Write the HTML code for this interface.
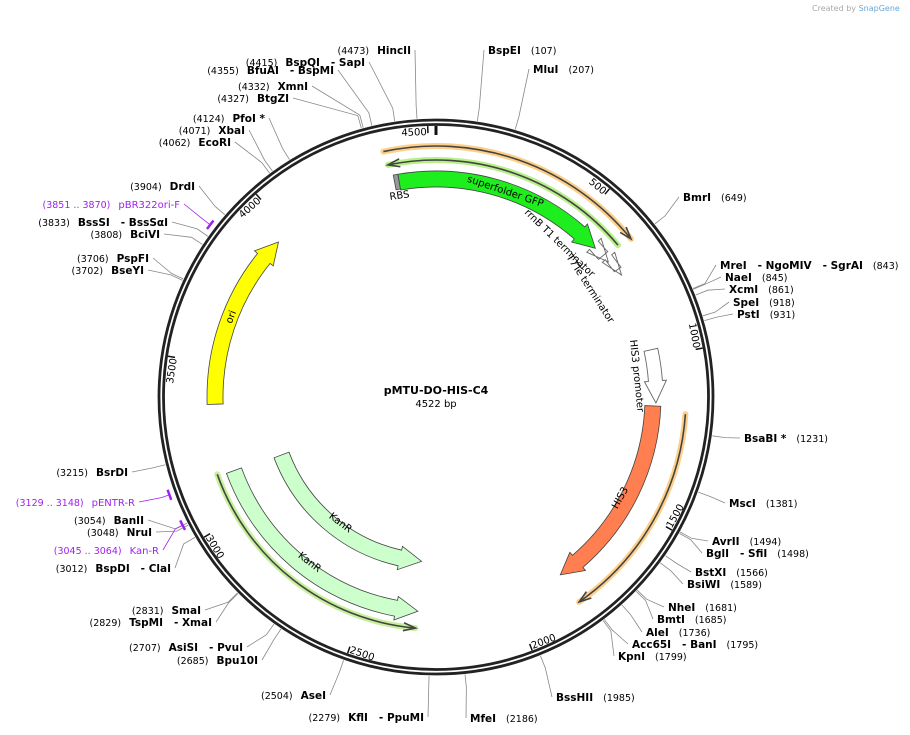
<!DOCTYPE html>
<html><head><meta charset="utf-8"><style>
html,body{margin:0;padding:0;background:#fff;}
svg{display:block;font-family:"DejaVu Sans","Liberation Sans",sans-serif;}
</style></head><body>
<svg id="map" width="910" height="735" viewBox="0 0 910 735" xmlns="http://www.w3.org/2000/svg">
<text x="812" y="11" font-size="8" fill="#aaa">Created by <tspan fill="#6aa7d8">SnapGene</tspan></text>
<g id="leaders"></g>
<g id="backbone"></g>
<g id="features"></g>
<g id="labels"></g>
<text x="436" y="394" text-anchor="middle" font-size="11" font-weight="bold">pMTU-DO-HIS-C4</text>
<text x="436" y="407" text-anchor="middle" font-size="10">4522 bp</text>
</svg>
<script>
const total = 4522;
const tickPositions = [500,1000,1500,2000,2500,3000,3500,4000,4500];
const siteNames = ["BspEI","MluI","BmrI","MreI - NgoMIV - SgrAI","NaeI","XcmI","SpeI","PstI","BsaBI *","MscI","AvrII","BglI - SfiI","BstXI","BsiWI","NheI","BmtI","AleI","Acc65I - BanI","KpnI","BssHII","MfeI",
"KflI - PpuMI","AseI","Bpu10I","AsiSI - PvuI","TspMI - XmaI","SmaI","BspDI - ClaI","NruI","BanII","BsrDI","BseYI","PspFI","BciVI","BssSI - BssSαI","DrdI","EcoRI","XbaI","PfoI *","BtgZI","XmnI","BfuAI - BspMI","BspQI - SapI","HincII"];
const sitePositions = [107,207,649,843,845,861,918,931,1231,1381,1494,1498,1566,1589,1681,1685,1736,1795,1799,1985,2186,
2279,2504,2685,2707,2829,2831,3012,3048,3054,3215,3702,3706,3808,3833,3904,4062,4071,4124,4327,4332,4355,4415,4473];
const primerNames = ["pBR322ori-F","Kan-R","pENTR-R"];
const primerStarts = [3851,3045,3129];
const primerEnds = [3870,3064,3148];
const featureNames = ["superfolder GFP","HIS3","ori","KanR","KanR","RBS","rrnB T1 terminator","T7Te terminator","HIS3 promoter"];
const featureStarts = [4400,1160,3368,2324,2322,4385,625,690,975];
const featureEnds = [590,1822,3951,3133,3140,4400,652,712,1150];

// layout (not data)
const labelXY = [[488,54],[533,73],[683,201],[720,269],[725,281],[729,293],[733,306],[737,318],[744,442],[729,507],[712,545],[706,557],[695,576],[687,588],[668,611],[657,623],[646,636],[632,648],[618,660],[556,701],[470,722],
[424,721],[326,699],[258,664],[243,651],[212,626],[201,614],[171,572],[152,536],[144,524],[128,476],[144,274],[149,262],[160,238],[168,226],[195,190],[231,146],[245,134],[265,122],[289,102],[308,90],[334,74],[365,66],[411,54]];
const primerXY = [[180,208],[159,554],[135,506]];

const NS="http://www.w3.org/2000/svg";
const cx=436, cy=397;
function ang(bp){return bp/total*2*Math.PI;}
function pt(r,bp){const a=ang(bp);return [cx+r*Math.sin(a), cy-r*Math.cos(a)];}
function mk(tag,attrs,parent){const e=document.createElementNS(NS,tag);for(const k in attrs)e.setAttribute(k,attrs[k]);parent.appendChild(e);return e;}
const gB=document.getElementById('backbone'),gF=document.getElementById('features'),gL=document.getElementById('labels'),gLd=document.getElementById('leaders');

let c1=mk('circle',{cx:cx,cy:cy,r:277,fill:'none',stroke:'#222','stroke-width':2.8},gB);


let c2=mk('circle',{cx:cx,cy:cy,r:272.5,fill:'none',stroke:'#222','stroke-width':2.8},gB);


{const a=pt(271,0),b=pt(262,0);let t=mk('line',{x1:a[0],y1:a[1],x2:b[0],y2:b[1],stroke:'#111','stroke-width':3},gB);

}
tickPositions.forEach(p=>{
  const a=pt(271,p),b=pt(264,p);
  let t=mk('line',{x1:a[0],y1:a[1],x2:b[0],y2:b[1],stroke:'#111','stroke-width':1.5},gB);
  
  
  let deg=p/total*360; const flip=deg>90&&deg<270;
  const q=pt(flip?270:262,p-3); let rot=flip?deg+180:deg;
  let tx=mk('text',{x:q[0],y:q[1],'font-size':10,'text-anchor':flip?'start':'end',transform:`rotate(${rot} ${q[0]} ${q[1]})`},gB);
  tx.textContent=p;
  
  
});

function arcPath(r,s,e){const a=pt(r,s),b=pt(r,e);const large=(e-s)/total>0.5?1:0;return `M${a[0]},${a[1]} A${r},${r} 0 ${large} 1 ${b[0]},${b[1]}`;}
function arrowShape(s,e,r,w,dir){
  if(e<s)e+=total;
  const head=22/r*total/(2*Math.PI);
  const ro=r+w/2, ri=r-w/2;
  if(dir>0){
    const he=e-head;
    const p1=pt(ro,s),p2=pt(ro,he),p3=pt(ro+4,he),p4=pt(r,e),p5=pt(ri-4,he),p6=pt(ri,he),p7=pt(ri,s);
    const lg=(he-s)/total>0.5?1:0;
    return `M${p1} A${ro},${ro} 0 ${lg} 1 ${p2} L${p3} L${p4} L${p5} L${p6} A${ri},${ri} 0 ${lg} 0 ${p7} Z`;
  } else {
    const hs=s+head;
    const p1=pt(ro,hs),p2=pt(ro,e),p3=pt(ri,e),p4=pt(ri,hs),p5=pt(ri-4,hs),p6=pt(r,s),p7=pt(ro+4,hs);
    const lg=(e-hs)/total>0.5?1:0;
    return `M${p1} A${ro},${ro} 0 ${lg} 1 ${p2} L${p3} A${ri},${ri} 0 ${lg} 0 ${p4} L${p5} L${p6} L${p7} Z`;
  }
}
function lineArrow(s,e,r,halo,dir,name){
  if(e<s)e+=total;
  const g=mk('g',{},gF);
  
  
  mk('path',{d:arcPath(r,s,e),fill:'none',stroke:halo,'stroke-width':6,'stroke-linecap':'round'},g);
  mk('path',{d:arcPath(r,s,e),fill:'none',stroke:'#444','stroke-width':1.6},g);
  const hb=dir>0?e:s, back=dir>0?e-12/r*total/(2*Math.PI):s+12/r*total/(2*Math.PI);
  const t=pt(r,hb),a=pt(r+4,back),b=pt(r-4,back);
  mk('path',{d:`M${a} L${t} L${b}`,fill:'none',stroke:'#444','stroke-width':1.6},g);
}
lineArrow(4370,640,251,'#fdd08a',1,'orange-orf-top');
lineArrow(4375,630,237,'#b8f08a',-1,'green-orf-top');
lineArrow(1180,1822,250,'#fdd08a',1,'orange-orf-right');
lineArrow(2325,3147,232,'#c6f09a',-1,'green-orf-bottom');

const styles=[
 {r:218,w:16,fill:'#1eee1e'},
 {r:217,w:16,fill:'#ff7f50'},
 {r:221,w:16,fill:'#ffff00'},
 {r:165,w:16,fill:'#ccffcc'},
 {r:215,w:16,fill:'#ccffcc'}];
featureNames.slice(0,5).forEach((n,i)=>{
  const st=styles[i];
  let s=featureStarts[i],e=featureEnds[i],d;
  if(i>=3) d=arrowShape(s,e,st.r,st.w,-1);
  else d=arrowShape(s,e,st.r,st.w,1);
  let p=mk('path',{d:d,fill:st.fill,stroke:'#444','stroke-width':0.8},gF);
  
  
  let ee=e<s?e+total:e; let mid=(s+ee)/2; let deg=(mid%total)/total*360; const flip=deg>90&&deg<270;
  const q=pt(st.r+(flip?-4:-4),mid);
  let tx=mk('text',{x:q[0],y:q[1],'font-size':10,'text-anchor':'middle',transform:`rotate(${flip?deg+180:deg} ${q[0]} ${q[1]})`},gF);
  tx.textContent=n;
  
  
});
{let p=mk('path',{d:`M${pt(226,featureStarts[5])} A226,226 0 0 1 ${pt(226,featureEnds[5])} L${pt(211,featureEnds[5])} A211,211 0 0 0 ${pt(211,featureStarts[5])} Z`,fill:'#999',stroke:'#444','stroke-width':0.8},gF);


let t=mk('text',{x:390,y:200,'font-size':10,transform:'rotate(-8 390 200)'},gF);t.textContent='RBS';

}
[[6,219,12],[7,222,8],[8,220,14]].forEach(([i,r,w])=>{
  let d=arrowShape(featureStarts[i],featureEnds[i],r,w,1);
  let p=mk('path',{d:d,fill:'#fff',stroke:'#666','stroke-width':0.9},gF);
  
  
});
[["rrnB T1 terminator",524,213,44],["T7Te terminator",566,257,57],["HIS3 promoter",630,340,84]].forEach(([t,x,y,r])=>{
  let e=mk('text',{x:x,y:y,'font-size':10,transform:`rotate(${r} ${x} ${y})`},gF);e.textContent=t;
  
  
});

siteNames.forEach((n,i)=>{
  const bp=sitePositions[i]; const [lx,ly]=labelXY[i]; const right=bp<total/2;
  const a=pt(279,bp),b=pt(292,bp); const ax=right?lx-4:lx+4, ay=ly-4;
  let l=mk('polyline',{points:`${a} ${b} ${ax},${ay}`,fill:'none',stroke:'#888','stroke-width':0.8},gLd);
  
  
  let t=mk('text',{x:lx,y:ly,'font-size':10.5,'text-anchor':right?'start':'end'},gL);
  
  
  if(right){t.innerHTML=`<tspan font-weight="bold">${n.replace(/ - /g,'\u00a0\u00a0 - ')}</tspan><tspan dx="10" font-size="9.5">(${bp})</tspan>`;}
  else{t.innerHTML=`<tspan font-size="9.5">(${bp})</tspan><tspan dx="8" font-weight="bold">${n.replace(/ - /g,'\u00a0\u00a0 - ')}</tspan>`;}
});
primerNames.forEach((n,i)=>{
  const s=primerStarts[i],e=primerEnds[i];const [lx,ly]=primerXY[i];
  let m=mk('path',{d:arcPath(284,s-4,e+4),fill:'none',stroke:'#a020f0','stroke-width':2.5},gF);
  
  
  const a=pt(285,(s+e)/2),b=pt(292,(s+e)/2);
  mk('polyline',{points:`${a} ${b} ${lx+4},${ly-4}`,fill:'none',stroke:'#a020f0','stroke-width':0.8},gLd);
  let t=mk('text',{x:lx,y:ly,'font-size':10,'text-anchor':'end',fill:'#a020f0'},gL);
  
  
  t.innerHTML=`<tspan font-size="9.5">(${s} .. ${e})</tspan><tspan dx="8">${n}</tspan>`;
});
</script>
</body></html>
